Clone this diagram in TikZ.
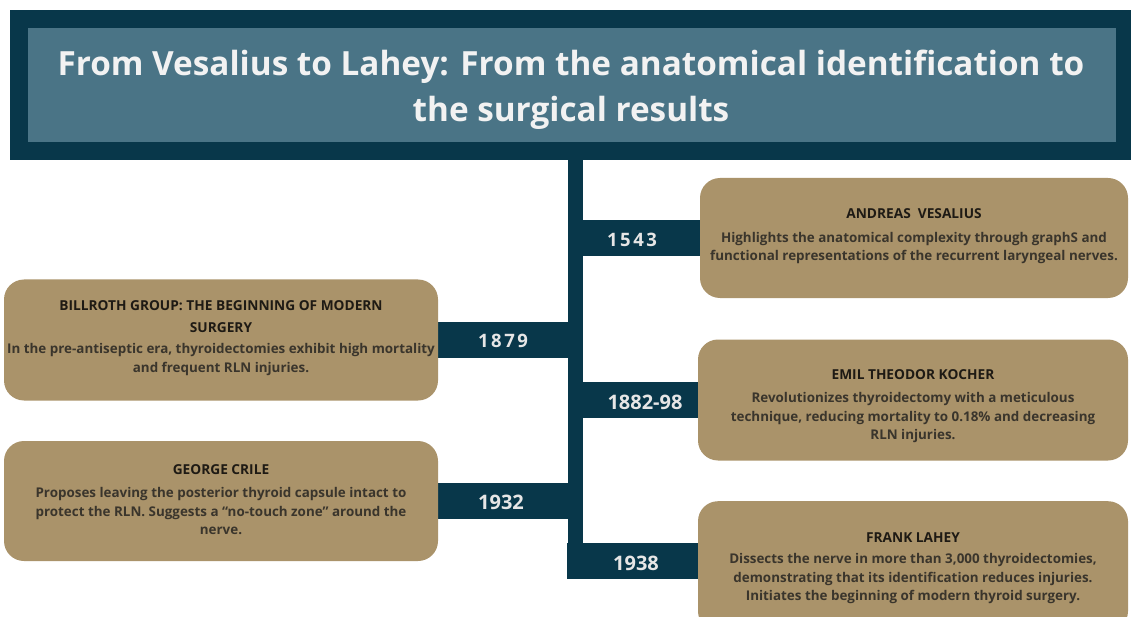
\documentclass[tikz,border=0pt]{standalone}
\usepackage{fontspec}
\setmainfont{Open Sans}
\definecolor{navy}{HTML}{08374A}
\definecolor{steel}{HTML}{4A7486}
\definecolor{tan}{HTML}{AA936A}
\definecolor{headc}{HTML}{1E1A14}
\definecolor{bodyc}{HTML}{3A352C}
\definecolor{yearc}{HTML}{E6E6E6}
\definecolor{titlec}{HTML}{F2F2F2}
\begin{document}
\begin{tikzpicture}[x=1pt,y=-1pt,
  card/.style={fill=tan, rounded corners=20pt, inner sep=0pt},
  headtext/.style={align=center, text=headc, inner sep=0pt,
    font=\fontsize{13.7}{22}\selectfont\bfseries},
  bodytext/.style={align=center, text=bodyc, inner sep=0pt,
    font=\fontsize{13.4}{18.5}\selectfont\bfseries},
  yearbar/.style={fill=navy, inner sep=0pt, minimum height=36pt},
  yeartext/.style={text=yearc, inner sep=0pt, font=\fontsize{20}{24}\selectfont\bfseries},
  spaced/.style={font=\fontsize{18.5}{24}\selectfont\bfseries\addfontfeature{LetterSpace=14}}
]
\useasboundingbox (0,0) rectangle (1131,617);
% title
\node[fill=navy, inner sep=0pt, minimum width=1131pt, minimum height=150pt, anchor=north west] (titleouter) at (10,10) {};
\node[fill=steel, inner sep=0pt, minimum width=1088pt, minimum height=114pt, anchor=north west] (titleinner) at (28,28) {};
\node[align=center, text=titlec, inner sep=0pt, font=\fontsize{33.3}{46}\selectfont\bfseries] (title) at (571,89.5)
  {From Vesalius to Lahey: From the anatomical identification to\\the surgical results};
% trunk
\node[fill=navy, inner sep=0pt, minimum width=15pt, minimum height=420pt, anchor=north] (trunk) at (575.5,158) {};
% year bars
\node[yearbar, minimum width=119pt] (b1543) at (641.5,238) {};
\node[yearbar, minimum width=133pt] (b1879) at (503,340) {};
\node[yearbar, minimum width=119pt] (b1882) at (641.5,400) {};
\node[yearbar, minimum width=133pt] (b1932) at (503,501) {};
\node[yearbar, minimum width=134pt] (b1938) at (634,560.5) {};
\node[yeartext, spaced] (y1543) at (632,240) {1543};
\node[yeartext, spaced] (y1879) at (503,341) {1879};
\node[yeartext] (y1882) at (645,402) {1882-98};
\node[yeartext] (y1932) at (501,502) {1932};
\node[yeartext] (y1938) at (636,563) {1938};
% cards
\node[card, minimum width=428pt, minimum height=120pt] (cVes) at (914,238) {};
\node[card, minimum width=434pt, minimum height=121pt] (cBil) at (221,340) {};
\node[card, minimum width=430pt, minimum height=121pt] (cKoc) at (913,400) {};
\node[card, minimum width=434pt, minimum height=120pt] (cCri) at (221,501) {};
\node[card, minimum width=430pt, minimum height=130pt, anchor=north] (cLah) at (913,501) {};
% texts
\node[headtext] (hVes) at (914,214) {ANDREAS\ \ VESALIUS};
\node[bodytext] (bVes) at (914,248) {Highlights the anatomical complexity through graphS and\\functional representations of the recurrent laryngeal nerves.};
\node[headtext] (hBil) at (221,316.5) {BILLROTH GROUP: THE BEGINNING OF MODERN\\SURGERY};
\node[bodytext] (bBil) at (221,359.5) {In the pre-antiseptic era, thyroidectomies exhibit high mortality\\and frequent RLN injuries.};
\node[headtext] (hKoc) at (913,375) {EMIL THEODOR KOCHER};
\node[bodytext] (bKoc) at (913,418) {Revolutionizes thyroidectomy with a meticulous\\technique, reducing mortality to 0.18\% and decreasing\\RLN injuries.};
\node[headtext] (hCri) at (221,470) {GEORGE CRILE};
\node[bodytext] (bCri) at (221,511) {Proposes leaving the posterior thyroid capsule intact to\\protect the RLN. Suggests a “no-touch zone” around the\\nerve.};
\node[headtext] (hLah) at (913,538) {FRANK LAHEY};
\node[bodytext] (bLah) at (913,579) {Dissects the nerve in more than 3,000 thyroidectomies,\\demonstrating that its identification reduces injuries.\\Initiates the beginning of modern thyroid surgery.};
\end{tikzpicture}
\end{document}
